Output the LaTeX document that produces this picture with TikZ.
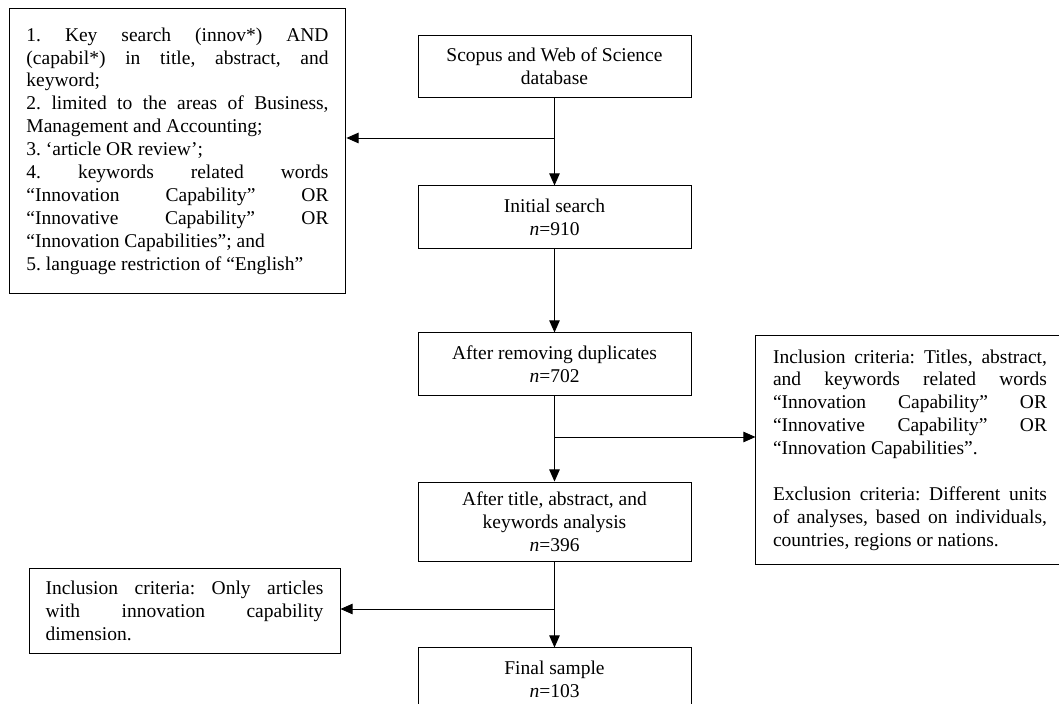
\documentclass[tikz,border=0pt]{standalone}
\usepackage{fontspec}
\setmainfont{Liberation Serif}
\usetikzlibrary{arrows.meta}
\tikzset{
  stage/.style={draw,minimum width=168pt,minimum height=38.2pt,align=center,inner sep=2pt},
  crit/.style={draw,align=justify,inner ysep=4pt},
}
\newcommand{\stagebox}[4][]{\node[stage,#1] (#2) at #3 {#4};}

\begin{document}
\begin{tikzpicture}[x=0.6154pt,y=-0.6154pt,line width=0.6pt,
  >={Triangle[length=7.5pt,width=6.5pt]},
  font=\fontsize{12}{14.1}\selectfont\frenchspacing\sloppy]
\useasboundingbox (0,0) rectangle (1059,704);
% main column
\stagebox{dbase}{(554.5,66.5)}{Scopus and Web of Science\\database}
\stagebox{init}{(554.5,217)}{Initial search\\\textit{n}=910}
\stagebox{dup}{(554.5,364)}{After removing duplicates\\\textit{n}=702}
\stagebox[minimum height=49.2pt]{screen}{(554.5,522)}{After title, abstract, and\\keywords analysis\\\textit{n}=396}
\stagebox{final}{(554.5,679)}{Final sample\\\textit{n}=103}
% side boxes
\node[crit,text width=185.9pt,inner xsep=10.7pt,minimum height=174.8pt] (query) at (177.5,151) {%
1. Key search (innov*) AND\linebreak (capabil*) in title, abstract, and\linebreak keyword;\\
2. limited to the areas of Business,\linebreak Management and Accounting;\\
3. ‘article OR review’;\\
4. keywords related words\linebreak “Innovation Capability” OR\linebreak “Innovative Capability” OR\linebreak “Innovation Capabilities”; and\\
5. language restriction of “English”};
\node[crit,text width=168.6pt,inner xsep=10.5pt,minimum height=141.5pt] (incl) at (910,450) {%
Inclusion criteria: Titles, abstract,\linebreak and keywords related words\linebreak “Innovation Capability” OR\linebreak “Innovative Capability” OR\linebreak “Innovation Capabilities”.\\[14pt]
Exclusion criteria: Different units\linebreak of analyses, based on individuals,\linebreak countries, regions or nations.};
\node[crit,text width=171pt,inner xsep=10.2pt,minimum height=52.9pt] (dim) at (184.5,611) {%
Inclusion criteria: Only articles\linebreak with innovation capability\linebreak dimension.};
% branch points
\coordinate (b1) at (554.5,138);
\coordinate (b2) at (554.5,437);
\coordinate (b3) at (554.5,609);
\draw[->] (dbase.south)--(init.north);
\draw[->] (b1)--(b1 -| query.east);
\draw[->] (init.south)--(dup.north);
\draw[->] (dup.south)--(screen.north);
\draw[->] (b2)--(b2 -| incl.west);
\draw[->] (screen.south)--(final.north);
\draw[->] (b3)--(b3 -| dim.east);
\end{tikzpicture}
\end{document}
